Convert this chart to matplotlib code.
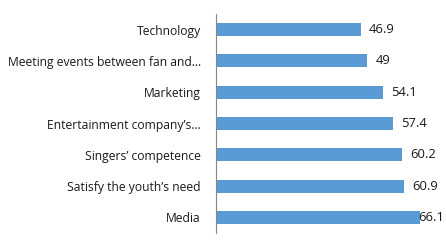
import matplotlib.pyplot as plt

categories = ['Technology', 'Meeting events between fan and…', 'Marketing',
              'Entertainment company’s…', 'Singers’ competence',
              'Satisfy the youth’s need', 'Media']
values = [46.9, 49, 54.1, 57.4, 60.2, 60.9, 66.1]

plt.rcParams['font.family'] = ['Open Sans', 'DejaVu Sans']

fig = plt.figure(figsize=(4.46, 2.48), dpi=100)
ax = fig.add_axes([216/446, 15/248, 227/446, 219/248])

pos = list(range(len(categories)))
ax.barh(pos, values, height=0.42, color='#5B9BD5')
ax.set_ylim(len(categories) - 0.5, -0.5)
xmax = 73.5
ax.set_xlim(0, xmax)

for p, v in zip(pos, values):
    label = f'{v:g}'
    if v + 10.5 > xmax:
        ax.text(xmax + 0.3, p, label, ha='right', va='center', fontsize=9.4, color='#1a1a1a')
    else:
        ax.annotate(label, (v, p), xytext=(6, 0), textcoords='offset points',
                    ha='left', va='center', fontsize=9.4, color='#1a1a1a')

ax.set_yticks(pos)
ax.set_yticklabels(categories, fontsize=8.7, color='#1a1a1a')
ax.tick_params(axis='y', length=0, pad=11)
ax.set_xticks([])
for s in ['top', 'right', 'bottom']:
    ax.spines[s].set_visible(False)
ax.spines['left'].set_color('#868686')
ax.spines['left'].set_linewidth(0.8)

fig.savefig('out.png', dpi=100)
